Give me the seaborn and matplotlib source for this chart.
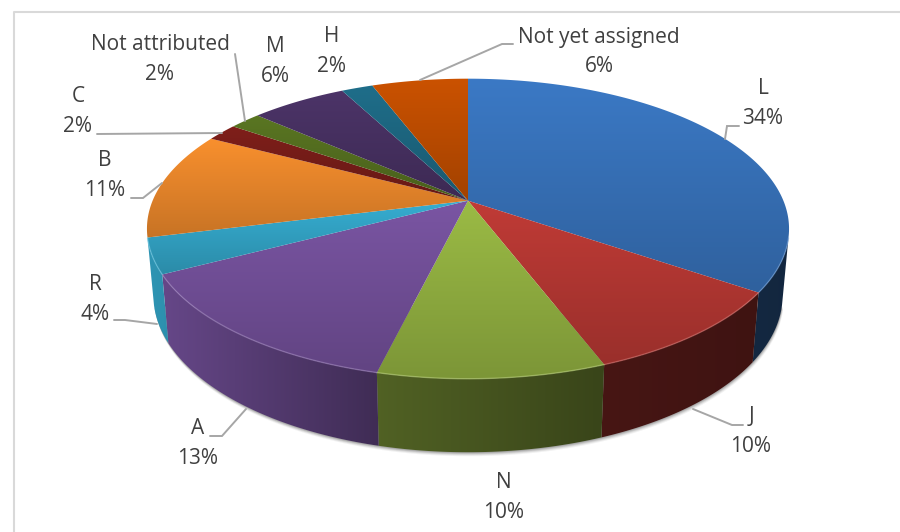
import numpy as np
import matplotlib
matplotlib.use("Agg")
import matplotlib.pyplot as plt
from matplotlib.colors import to_rgb
from matplotlib.patches import Polygon
import seaborn as sns

# data
categories = ["L", "J", "N", "A", "R", "B", "C", "Not attributed", "M", "H", "Not yet assigned"]
slice_shares = [34.6, 9.6, 9.6, 13.5, 3.8, 11.6, 1.9, 1.9, 5.8, 1.9, 5.8]
pct_labels = [34, 10, 10, 13, 4, 11, 2, 2, 6, 2, 6]
slice_colors = ["#3b79c5", "#c03b36", "#9bbb45", "#7a55a3", "#36aed2", "#f9902e",
                "#7f1f1a", "#5a7622", "#4c3468", "#1f6e8a", "#cb5200"]

# centre of the category line of each label, percent line sits 30px below
label_xy = [(763, 89), (751, 417), (504, 482), (198, 429), (95, 284), (105, 161),
            (78, 97), (160, 45), (275, 47), (332, 37), (599, 37)]
leaders = [
    [(739, 126), (727, 126), (725, 139)],
    [(743, 425), (732, 425), (693, 409)],
    [],
    [(210, 436), (222, 436), (246, 409)],
    [(114, 320), (125, 320), (157, 324)],
    [(131, 198), (143, 198), (162, 183)],
    [(97, 134), (222, 133)],
    [(235, 54), (245, 121)],
    [],
    [],
    [(513, 44), (502, 44), (420, 80)],
]

# perspective of the tilted disc, in pixels
CX, CY = 468, 200.7
SX, SY, P = 315.4, 144.8, 0.1867
FRONT = -0.245  # wall only shows below this on the unit circle


def top_rim(x, y):
    w = 1 + P * y
    return CX + SX * x / w, CY - SY * y / w


def low_rim(px, py):
    return CX + 0.98 * (px - CX), 266 + 1.046 * (py - CY)


def gradient_fill(ax, poly_xy, rgba, extent, zorder):
    patch = Polygon(poly_xy, closed=True, fc="none", ec="none", zorder=zorder)
    ax.add_patch(patch)
    im = ax.imshow(rgba, extent=extent, aspect="auto", zorder=zorder, interpolation="bilinear")
    im.set_clip_path(patch)


sns.set_theme(style="white")
plt.rcParams["font.family"] = ["Open Sans", "DejaVu Sans"]

fig = plt.figure(figsize=(9, 5.32), dpi=100)
ax = fig.add_axes([0, 0, 1, 1])
wedges, _ = ax.pie(slice_shares, startangle=90, counterclock=False, colors=slice_colors)

# shadow under the disc
t = np.linspace(0, 2 * np.pi, 400)
t = t[np.sin(t) <= FRONT]
rx, ry = top_rim(np.cos(t), np.sin(t))
lx, ly = low_rim(rx, ry)
for off, a in [(4, 0.07), (3, 0.11), (2, 0.16), (1, 0.2)]:
    ax.add_patch(Polygon(np.c_[lx + off * 0.3, ly + off], closed=True, fc="#404040",
                         ec="none", alpha=a, zorder=1))

for wedge, color in zip(wedges, slice_colors):
    wedge.set_visible(False)
    base = np.array(to_rgb(color))
    th = np.radians(np.linspace(wedge.theta1, wedge.theta2, 160))
    ax_, ay_ = top_rim(np.cos(th), np.sin(th))
    front = np.sin(th) <= FRONT

    # outer wall, darker to the right
    if front.sum() >= 2:
        bx_, by_ = low_rim(ax_[front], ay_[front])
        wall = np.r_[np.c_[ax_[front], ay_[front]], np.c_[bx_, by_][::-1]]
        xs = np.linspace(140, 800, 128)
        fac = np.interp(xs, [150, 378, 600, 789], [0.85, 0.52, 0.37, 0.32])
        img = (base[None, None, :] * fac[None, :, None]).clip(0, 1)
        gradient_fill(ax, wall, img, (140, 800, 470, 60), 2)

    # top face, darker to the bottom
    face = np.r_[[[CX, CY]], np.c_[ax_, ay_]]
    y0, y1 = face[:, 1].min(), face[:, 1].max()
    fac = np.linspace(1.0, 0.8, 64)
    img = (base[None, None, :] * fac[:, None, None]).clip(0, 1)
    gradient_fill(ax, face, img, (100, 820, y1 + 1, y0 - 1), 3)

    # light bevel along the front rim
    if front.sum() >= 2:
        ax.plot(ax_[front], ay_[front], color=base * 0.75 + 0.25, lw=1, alpha=0.6, zorder=4)

# leader lines
for pts in leaders:
    if pts:
        ax.plot(*zip(*pts), color="#a6a6a6", lw=1.4, solid_joinstyle="miter", zorder=5)

# labels
for name, pct, (x, y) in zip(categories, pct_labels, label_xy):
    ax.text(x, y, name, ha="center", va="center", fontsize=15, color="#404040", zorder=6)
    ax.text(x, y + 30, f"{pct}%", ha="center", va="center", fontsize=15, color="#404040", zorder=6)

# chart frame, cut off by the picture on the right and at the bottom
ax.plot([14, 14, 900], [532, 12, 12], color="#d9d9d9", lw=1.5, zorder=0)

ax.set_aspect("auto")
ax.set_xlim(0, 900)
ax.set_ylim(532, 0)
ax.axis("off")
fig.savefig("out.png", dpi=100)
plt.close(fig)
